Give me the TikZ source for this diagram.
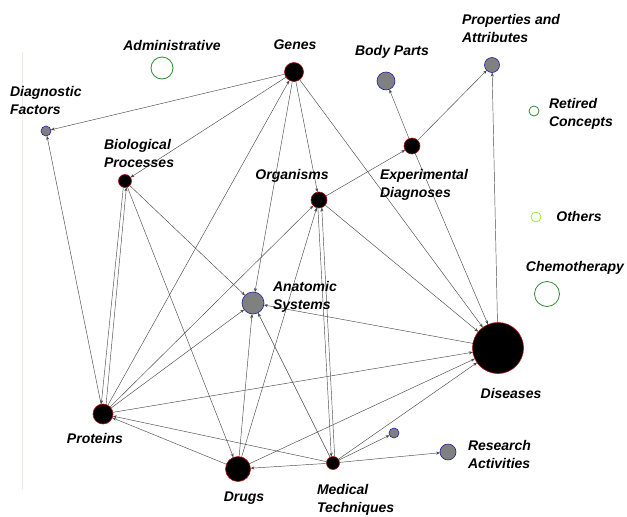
\documentclass[tikz,border=0pt]{standalone}
\usepackage{fontspec}
\setmainfont{Liberation Sans}
\usetikzlibrary{arrows.meta}
\definecolor{edgec}{HTML}{4A4A4A}
\definecolor{darkred}{HTML}{B01010}
\definecolor{graycol}{HTML}{808080}
\definecolor{bluecol}{HTML}{2020A0}
\definecolor{greencol}{HTML}{2E8B2E}
\definecolor{lightgreen}{HTML}{99E633}
\definecolor{framec}{HTML}{F0ECE2}
\begin{document}
\begin{tikzpicture}[x=1pt,y=-1pt,
  every node/.style={inner sep=0pt, outer sep=0pt},
  blk/.style={circle, fill=black, draw=darkred, line width=0.6pt},
  gry/.style={circle, fill=graycol, draw=bluecol, line width=0.6pt},
  grn/.style={circle, fill=white, draw=greencol, line width=0.8pt},
  lbl/.style={font=\fontsize{14}{18}\selectfont\bfseries\itshape, align=left},
  conn/.style={draw=edgec, line width=0.45pt, -{Stealth[length=4pt,width=3pt]}}]
\useasboundingbox (0,0) rectangle (627,517);
\fill[white] (0,0) rectangle (627,517);
\draw[framec, line width=0.6pt] (22.5,52) -- (22.5,490);

% nodes
\node[blk, minimum size=19pt] (genes) at (294,72) {};
\node[grn, minimum size=22pt] (adm) at (162,68) {};
\node[gry, minimum size=10pt] (df) at (46,131) {};
\node[blk, minimum size=13pt] (bp) at (125,181) {};
\node[blk, minimum size=16pt] (org) at (319,200) {};
\node[blk, minimum size=16pt] (ed) at (412,146) {};
\node[gry, minimum size=18pt] (body) at (386,81) {};
\node[gry, minimum size=15pt] (pa) at (492,65) {};
\node[grn, minimum size=10pt] (ret) at (534,111) {};
\node[circle, fill=white, draw=lightgreen, line width=0.8pt, minimum size=10pt] (oth) at (536,217) {};
\node[grn, minimum size=25pt] (chemo) at (547,294) {};
\node[gry, minimum size=22pt] (as) at (253,303) {};
\node[blk, minimum size=51pt] (dis) at (498,348) {};
\node[blk, minimum size=20pt] (prot) at (103,414) {};
\node[blk, minimum size=25pt] (drugs) at (238,469) {};
\node[blk, minimum size=13pt] (mt) at (333,463) {};
\node[gry, minimum size=10pt] (small) at (394,433) {};
\node[gry, minimum size=16pt] (ra) at (448,452) {};

% connectors
\draw[conn] (genes) -- (df);
\draw[conn] (genes) -- (bp);
\draw[conn] (genes) -- (org);
\draw[conn] (genes) -- (as);
\draw[conn] (genes) -- (dis);
\draw[conn] (prot) -- (genes);
\draw[conn] (bp.255) -- (prot.100);
\draw[conn] (prot.72) -- (bp.282);
\draw[conn] (prot) -- (df);
\draw[conn] (bp) -- (drugs);
\draw[conn] (bp) -- (as);
\draw[conn] (org) -- (ed);
\draw[conn] (org) -- (dis);
\draw[conn] (prot) -- (org);
\draw[conn] (drugs) -- (org);
\draw[conn] (org.262) -- (mt.105);
\draw[conn] (mt.75) -- (org.290);
\draw[conn] (prot) -- (as);
\draw[conn] (drugs) -- (as);
\draw[conn] (mt) -- (as);
\draw[conn] (dis) -- (as);
\draw[conn] (ed) -- (dis);
\draw[conn] (dis) -- (pa);
\draw[conn] (prot) -- (dis);
\draw[conn] (drugs) -- (dis);
\draw[conn] (mt) -- (dis);
\draw[conn] (ed) -- (body);
\draw[conn] (ed) -- (pa);
\draw[conn] (drugs) -- (prot);
\draw[conn] (mt) -- (prot);
\draw[conn] (mt) -- (drugs);
\draw[conn] (mt) -- (small);
\draw[conn] (mt) -- (ra);

% labels
\node[lbl] (lAdm) at (172,45) {Administrative};
\node[lbl] (lGenes) at (295,45) {Genes};
\node[lbl, anchor=west] (lDF) at (10,100) {Diagnostic\\Factors};
\node[lbl, anchor=west] (lBP) at (104,153) {Biological\\Processes};
\node[lbl] (lOrg) at (292,176) {Organisms};
\node[lbl, anchor=west] (lED) at (380,185) {Experimental\\Diagnoses};
\node[lbl] (lBody) at (392,52) {Body Parts};
\node[lbl, anchor=west] (lPA) at (462,28) {Properties and\\Attributes};
\node[lbl, anchor=west] (lRet) at (549,114) {Retired\\Concepts};
\node[lbl] (lOth) at (579,216) {Others};
\node[lbl] (lChemo) at (575,268) {Chemotherapy};
\node[lbl, anchor=west] (lAS) at (273,297) {Anatomic\\Systems};
\node[lbl] (lDis) at (511,393) {Diseases};
\node[lbl] (lProt) at (95,438) {Proteins};
\node[lbl] (lDrugs) at (244,498) {Drugs};
\node[lbl, anchor=west] (lMT) at (317,500) {Medical\\Techniques};
\node[lbl, anchor=west] (lRA) at (468,454) {Research\\Activities};
\end{tikzpicture}
\end{document}
